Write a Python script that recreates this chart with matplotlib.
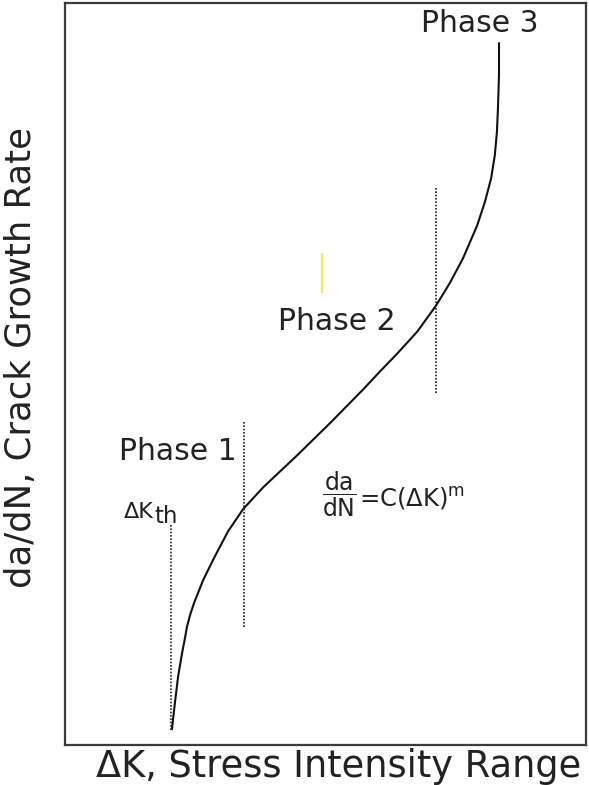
import matplotlib
matplotlib.use('Agg')
import matplotlib.pyplot as plt

#-----------------------------------------------------------------------------#
# data (arbitrary units: 0..100 on both axes)

delta_k = [20.5, 21.1, 21.7, 22.5, 23.0, 23.4, 24.0, 24.8, 26.5, 28.6,
           31.3, 34.2, 38.0, 44.5, 50.9, 57.2, 60.4, 63.7, 67.6, 71.2,
           73.9, 76.4, 79.1, 80.6, 81.8, 82.5, 82.9, 83.1, 83.3, 83.3]
growth_rate = [2.0, 5.7, 9.2, 12.5, 14.3, 15.9, 17.5, 19.2, 22.2, 25.2,
               28.8, 31.8, 34.7, 39.0, 43.4, 47.9, 50.3, 52.7, 55.7, 59.2,
               62.3, 65.6, 70.0, 73.2, 76.4, 79.5, 82.6, 85.8, 90.3, 94.7]

# phase boundaries: x position, bottom, top
boundary_x = [20.3, 34.4, 71.2]
boundary_lo = [2.0, 15.9, 47.4]
boundary_hi = [29.6, 43.5, 75.1]

marker_x = 49.3
marker_lo = 60.9
marker_hi = 66.3

phase_labels = ['Phase 1', 'Phase 2', 'Phase 3']
phase_x = [21.6, 52.1, 79.7]
phase_y = [38.4, 55.9, 96.1]

#-----------------------------------------------------------------------------#
# plot

plt.rcParams['mathtext.fontset'] = 'dejavusans'
TXT = '#222222'

fig = plt.figure(figsize=(5.89, 7.85), dpi=100)
ax = fig.add_axes([65 / 589, 40 / 785, 521 / 589, 742 / 785])
ax.set_xlim(0, 100)
ax.set_ylim(0, 100)
ax.set_xticks([])
ax.set_yticks([])
for s in ax.spines.values():
    s.set_linewidth(1.6)
    s.set_color('#3a3a3a')

ax.plot(delta_k, growth_rate, color='#111111', lw=1.5,
        solid_joinstyle='round', solid_capstyle='butt')

for x, lo, hi in zip(boundary_x, boundary_lo, boundary_hi):
    ax.vlines(x, lo, hi, colors='#222222', lw=1.2, linestyles=(0, (1, 1)))

ax.vlines(marker_x, marker_lo, marker_hi, colors='#f8e46a', lw=1.6)

for lab, x, y in zip(phase_labels, phase_x, phase_y):
    ax.text(x, y, lab, fontsize=21.5, color=TXT, ha='center', va='baseline')

# threshold label
ax.text(17.1, 30.6, 'ΔK', fontsize=16, color=TXT, ha='right', va='baseline')
ax.text(17.2, 29.9, 'th', fontsize=16.5, color=TXT, ha='left', va='baseline')

# Paris law
ax.text(49.3, 33.8, r'$\dfrac{\mathrm{da}}{\mathrm{dN}}$', fontsize=17,
        color=TXT, ha='left', va='center')
ax.text(56.4, 32.2, r'=C(ΔK)$^{\mathrm{m}}$', fontsize=17.5, color=TXT,
        ha='left', va='baseline')

fig.text(21 / 589, (785 - 358) / 785,
         'da/dN, Crack Growth Rate', fontsize=25.5, color=TXT,
         rotation=90, ha='center', va='center')
fig.text(581 / 589, (785 - 777) / 785, 'ΔK, Stress Intensity Range',
         fontsize=26.5, color=TXT, ha='right', va='baseline')

fig.savefig('out.png', dpi=100)
